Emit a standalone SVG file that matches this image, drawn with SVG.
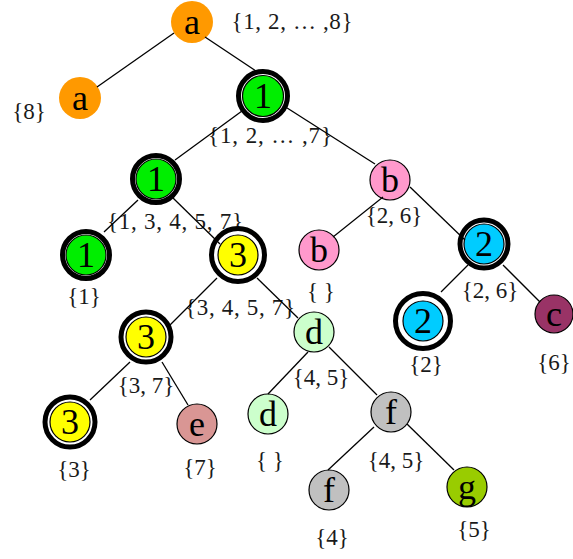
<svg xmlns="http://www.w3.org/2000/svg" width="573" height="559" viewBox="0 0 573 559">
<style>
.n{stroke:#000;stroke-width:1.2}
.no{stroke:none}
.ring{fill:#fff;stroke:#000;stroke-width:5}
.t{font-family:"Liberation Serif","Times New Roman",serif;font-size:36px;text-anchor:middle;fill:#000}
.l{font-family:"Liberation Serif","Times New Roman",serif;font-size:23px;text-anchor:middle;fill:#1a1a1a}
.or{fill:#FF9900}.gr{fill:#00EE00}.ye{fill:#FFFF00}.cy{fill:#00CCFF}.pk{fill:#FF99CC}
.mr{fill:#993366}.lg{fill:#CCFFCC}.gy{fill:#C0C0C0}.yg{fill:#99CC00}.sa{fill:#D99694}
#edges line{stroke:#000;stroke-width:1.3}
</style>
<rect width="573" height="559" fill="#fff"/>
<g id="n-a-root"><circle cx="192" cy="22" r="21" class="or no"/><text x="192" y="34" class="t">a</text><text x="292" y="29" class="l" textLength="121">{1, 2, … ,8}</text></g>
<g id="n-a-left"><circle cx="80" cy="98" r="21" class="or no"/><text x="80" y="110" class="t">a</text><text x="29" y="119" class="l">{8}</text></g>
<g id="n-1-top"><circle cx="263" cy="96" r="24.5" class="ring"/><circle cx="263" cy="96" r="20.5" class="gr n"/><text x="263" y="108" class="t">1</text><text x="270" y="143" class="l" textLength="124">{1, 2, … ,7}</text></g>
<g id="n-1-mid"><circle cx="156" cy="179" r="23.5" class="ring"/><circle cx="156" cy="179" r="20" class="gr n"/><text x="156" y="191" class="t">1</text><text x="175" y="229" class="l" textLength="136">{1, 3, 4, 5, 7}</text></g>
<g id="n-1-leaf"><circle cx="86" cy="255" r="23.5" class="ring"/><circle cx="86" cy="255" r="20" class="gr n"/><text x="86" y="267" class="t">1</text><text x="84" y="304" class="l">{1}</text></g>
<g id="n-3-top"><circle cx="238" cy="255" r="26.5" class="ring"/><circle cx="238" cy="255" r="20" class="ye n"/><text x="238" y="267" class="t">3</text><text x="240" y="315" class="l" textLength="110">{3, 4, 5, 7}</text></g>
<g id="n-3-mid"><circle cx="146" cy="337" r="25" class="ring"/><circle cx="146" cy="337" r="20" class="ye n"/><text x="146" y="349" class="t">3</text><text x="146" y="393" class="l">{3, 7}</text></g>
<g id="n-3-leaf"><circle cx="70" cy="422" r="25" class="ring"/><circle cx="70" cy="422" r="20" class="ye n"/><text x="70" y="434" class="t">3</text><text x="74" y="477" class="l">{3}</text></g>
<g id="n-e"><circle cx="197" cy="424" r="20" class="sa n"/><text x="197" y="436" class="t">e</text><text x="200" y="475" class="l">{7}</text></g>
<g id="n-d-top"><circle cx="314" cy="332" r="20" class="lg n"/><text x="314" y="344" class="t">d</text><text x="321" y="385" class="l">{4, 5}</text></g>
<g id="n-d-leaf"><circle cx="268" cy="414" r="20" class="lg n"/><text x="268" y="426" class="t">d</text><text x="270" y="468" class="l">{ }</text></g>
<g id="n-f-top"><circle cx="391" cy="412" r="20" class="gy n"/><text x="391" y="424" class="t">f</text><text x="396" y="468" class="l">{4, 5}</text></g>
<g id="n-f-leaf"><circle cx="329" cy="490" r="20" class="gy n"/><text x="329" y="502" class="t">f</text><text x="332" y="545" class="l">{4}</text></g>
<g id="n-g"><circle cx="467" cy="487" r="20" class="yg n"/><text x="467" y="499" class="t">g</text><text x="474" y="537" class="l">{5}</text></g>
<g id="n-b-top"><circle cx="390" cy="180" r="20" class="pk n"/><text x="390" y="192" class="t">b</text><text x="394" y="223" class="l">{2, 6}</text></g>
<g id="n-b-leaf"><circle cx="319" cy="250" r="20" class="pk n"/><text x="319" y="262" class="t">b</text><text x="321" y="299" class="l">{ }</text></g>
<g id="n-2-top"><circle cx="484" cy="244" r="24" class="ring"/><circle cx="484" cy="244" r="20" class="cy n"/><text x="484" y="256" class="t">2</text><text x="490" y="298" class="l">{2, 6}</text></g>
<g id="n-2-leaf"><circle cx="423" cy="321" r="27.5" class="ring"/><circle cx="423" cy="321" r="20" class="cy n"/><text x="423" y="333" class="t">2</text><text x="426" y="372" class="l">{2}</text></g>
<g id="n-c"><circle cx="554" cy="314" r="19" class="mr n"/><text x="554" y="326" class="t">c</text><text x="554" y="370" class="l">{6}</text></g>
<g id="edges">
<line x1="174" y1="33" x2="97" y2="87"/>
<line x1="205" y1="37" x2="256" y2="71"/>
<line x1="242" y1="111" x2="175" y2="160"/>
<line x1="284" y1="106" x2="375" y2="164"/>
<line x1="138" y1="200" x2="104" y2="232"/>
<line x1="173" y1="198" x2="220" y2="244"/>
<line x1="383" y1="197" x2="333" y2="237"/>
<line x1="410" y1="187" x2="465" y2="240"/>
<line x1="468" y1="265" x2="441" y2="292"/>
<line x1="503" y1="265" x2="540" y2="302"/>
<line x1="217" y1="278" x2="170" y2="325"/>
<line x1="257" y1="278" x2="298" y2="318"/>
<line x1="130" y1="362" x2="90" y2="400"/>
<line x1="162" y1="362" x2="188" y2="405"/>
<line x1="308" y1="352" x2="268" y2="394"/>
<line x1="329" y1="347" x2="377" y2="395"/>
<line x1="374" y1="427" x2="328" y2="470"/>
<line x1="407" y1="424" x2="454" y2="470"/>
</g>
</svg>
